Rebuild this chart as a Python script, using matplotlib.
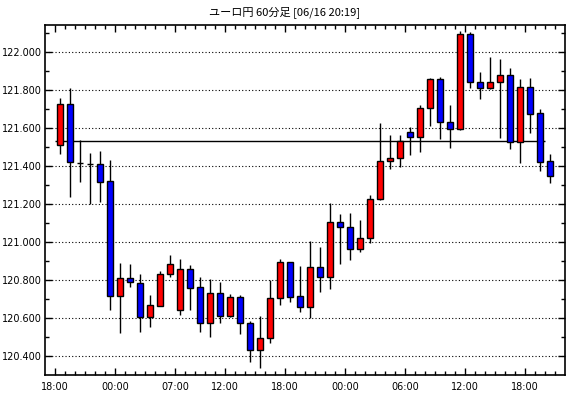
import matplotlib
matplotlib.use("Agg")
import matplotlib.pyplot as plt
import numpy as np
from matplotlib.ticker import MultipleLocator, FixedLocator, FuncFormatter

title = "ユーロ円 60分足 [06/16 20:19]"

opens = [121.511, 121.726, 121.419, 121.415, 121.411, 121.321, 120.719, 120.811, 120.788, 120.605,
         120.667, 120.832, 120.642, 120.858, 120.763, 120.574, 120.732, 120.612, 120.711, 120.574,
         120.432, 120.495, 120.705, 120.896, 120.716, 120.658, 120.868, 120.819, 121.105, 121.079,
         120.967, 121.021, 121.226, 121.426, 121.442, 121.579, 121.556, 121.705, 121.858, 121.632,
         121.595, 122.095, 121.842, 121.811, 121.842, 121.879, 121.526, 121.816, 121.679, 121.426]
closes = [121.726, 121.421, 121.417, 121.413, 121.319, 120.719, 120.812, 120.789, 120.605, 120.668,
          120.832, 120.884, 120.858, 120.758, 120.574, 120.732, 120.612, 120.711, 120.574, 120.432,
          120.495, 120.705, 120.896, 120.714, 120.658, 120.868, 120.819, 121.105, 121.079, 120.967,
          121.021, 121.226, 121.426, 121.442, 121.532, 121.556, 121.705, 121.858, 121.632, 121.595,
          122.095, 121.842, 121.811, 121.842, 121.879, 121.526, 121.816, 121.677, 121.425, 121.347]
highs = [121.760, 121.812, 121.539, 121.470, 121.481, 121.433, 120.891, 120.884, 120.833, 120.723,
         120.849, 120.933, 120.912, 120.881, 120.818, 120.807, 120.789, 120.728, 120.721, 120.586,
         120.612, 120.802, 120.912, 120.896, 120.875, 121.007, 120.974, 121.207, 121.149, 121.154,
         121.118, 121.249, 121.628, 121.565, 121.565, 121.607, 121.723, 121.863, 121.872, 121.723,
         122.112, 122.105, 121.896, 121.975, 121.963, 121.916, 121.858, 121.865, 121.702, 121.465]
lows = [121.467, 121.240, 121.318, 121.200, 121.214, 120.644, 120.525, 120.767, 120.528, 120.553,
        120.665, 120.819, 120.619, 120.644, 120.530, 120.504, 120.575, 120.609, 120.519, 120.372,
        120.337, 120.468, 120.668, 120.688, 120.635, 120.600, 120.740, 120.756, 120.888, 120.909,
        120.949, 120.998, 121.222, 121.386, 121.398, 121.460, 121.475, 121.612, 121.542, 121.498,
        121.589, 121.814, 121.756, 121.805, 121.551, 121.493, 121.419, 121.577, 121.377, 121.314]

ref_level = 121.532
time_labels = ["18:00", "00:00", "07:00", "12:00", "18:00", "00:00", "06:00", "12:00", "18:00"]
label_index = [0, 6, 12, 17, 23, 29, 35, 41, 47]

fig = plt.figure(figsize=(5.70, 3.98), dpi=100)
ax = fig.add_axes([45/570, 23/398, 520/570, 350/398])

n = len(opens)
x = np.arange(n)
o = np.array(opens); c = np.array(closes)
up = c >= o
colors = np.where(up, "#ff0000", "#0000ff")

ax.vlines(x, lows, highs, color="black", linewidth=1.0, zorder=3)
bottoms = np.minimum(o, c)
heights = np.abs(c - o)
heights = np.maximum(heights, 0.0005)
ax.bar(x, heights, bottom=bottoms, width=0.6, color=colors, edgecolor="black",
       linewidth=1.0, zorder=4)

ax.hlines(ref_level, -0.5, n - 1.5, color="black", linewidth=1.0, zorder=2)

ax.set_xlim(-1.5, n + 0.5)
ax.set_ylim(120.302, 122.144)

ax.yaxis.set_major_locator(MultipleLocator(0.2))
ax.yaxis.set_minor_locator(MultipleLocator(0.1))
ax.yaxis.set_major_formatter(FuncFormatter(lambda v, p: f"{v:.3f}"))
ax.grid(axis="y", which="major", color="black", linestyle=(0, (1, 2)), linewidth=0.8, zorder=1)

ax.xaxis.set_major_locator(FixedLocator([i - 0.5 for i in label_index]))
ax.xaxis.set_minor_locator(FixedLocator([i - 0.5 for i in range(n + 1)]))
ax.set_xticklabels(time_labels)

ax.tick_params(which="both", direction="in", top=True, right=True, labelsize=7, colors="black")
ax.tick_params(axis="y", pad=2)
ax.tick_params(axis="x", pad=5)
ax.tick_params(which="major", length=5, width=1)
ax.tick_params(which="minor", length=3, width=1)
for sp in ax.spines.values():
    sp.set_linewidth(1.2)

fig.text(0.5, 1 - 12/398, title, ha="center", va="center", fontsize=8,
         family=["Noto Sans CJK JP", "DejaVu Sans"])

fig.savefig("out.png", dpi=100, facecolor="white")
